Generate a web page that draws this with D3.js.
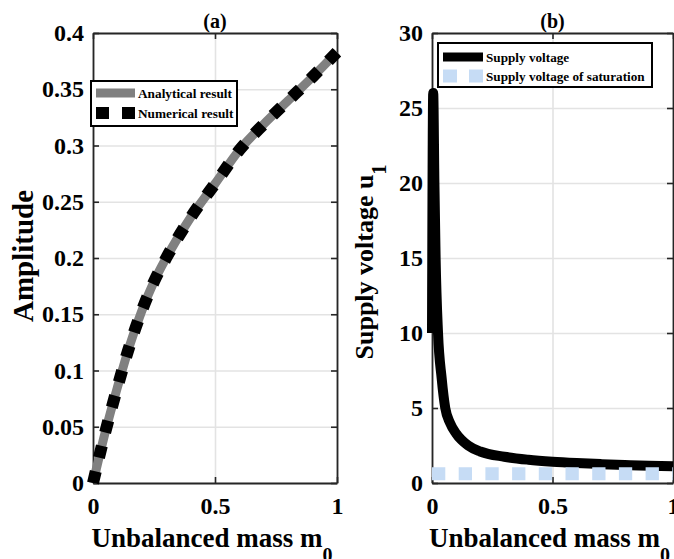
<!DOCTYPE html>
<html>
<head>
<meta charset="utf-8">
<script src="https://cdn.jsdelivr.net/npm/d3@7"></script>
<style>
  body { margin: 0; background: #fff; }
  svg text { font-family: "Liberation Serif", "Times New Roman", serif; font-weight: bold; fill: #000; }
</style>
</head>
<body>
<div id="chart"></div>
<script>
// ---- data ----
// panel (a): amplitude vs unbalanced mass
const massA = [0, 0.05, 0.1, 0.15, 0.2, 0.25, 0.3, 0.4, 0.5, 0.6, 0.7, 0.8, 0.9, 1];
const amplitudeAnalytical = [0, 0.045, 0.085, 0.122, 0.153, 0.179, 0.2, 0.236, 0.266, 0.296, 0.319, 0.34, 0.361, 0.383];
const amplitudeNumerical = [0, 0.045, 0.085, 0.122, 0.153, 0.179, 0.2, 0.236, 0.266, 0.296, 0.319, 0.34, 0.361, 0.383];

// panel (b): supply voltage vs unbalanced mass
const massB = [0, 0.005, 0.01, 0.015, 0.025, 0.04, 0.055, 0.075, 0.1, 0.15, 0.2, 0.3, 0.4, 0.5, 0.6, 0.7, 0.8, 0.9, 1];
const supplyVoltage = [10, 26, 20, 15, 10, 7, 5, 4, 3.3, 2.5, 2.1, 1.75, 1.55, 1.42, 1.33, 1.26, 1.2, 1.15, 1.12];
const massSat = [0, 1];
const saturationVoltage = [0.62, 0.62];

// ticks
const xTicks = [0, 0.5, 1];
const xTickLabels = ["0", "0.5", "1"];
const yTicksA = [0, 0.05, 0.1, 0.15, 0.2, 0.25, 0.3, 0.35, 0.4];
const yTickLabelsA = ["0", "0.05", "0.1", "0.15", "0.2", "0.25", "0.3", "0.35", "0.4"];
const yTicksB = [0, 5, 10, 15, 20, 25, 30];
const yTickLabelsB = ["0", "5", "10", "15", "20", "25", "30"];

const width = 674, height = 559;

const svg = d3.select("#chart")
  .append("svg")
  .attr("width", width)
  .attr("height", height);

function drawPanel(cfg) {
  const g = svg.append("g");
  const x = d3.scaleLinear().domain([0, 1]).range([cfg.left, cfg.right]);
  const y = d3.scaleLinear().domain(cfg.yDomain).range([cfg.bottom, cfg.top]);
  const h = cfg.bottom - cfg.top, w = cfg.right - cfg.left;

  // grid lines
  g.append("g")
    .attr("transform", "translate(0," + cfg.bottom + ")")
    .call(d3.axisBottom(x).tickValues(xTicks).tickSize(-h).tickFormat(""))
    .call(s => s.select(".domain").remove())
    .selectAll("line").attr("stroke", "#e3e3e3").attr("stroke-width", 1.6);
  g.append("g")
    .attr("transform", "translate(" + cfg.left + ",0)")
    .call(d3.axisLeft(y).tickValues(cfg.yTicks).tickSize(-w).tickFormat(""))
    .call(s => s.select(".domain").remove())
    .selectAll("line").attr("stroke", "#e3e3e3").attr("stroke-width", 1.6);

  // axes with inward ticks on all four sides
  const axisColor = "#262626";
  const bottomAxis = g.append("g")
    .attr("transform", "translate(0," + cfg.bottom + ")")
    .call(d3.axisBottom(x).tickValues(xTicks).tickSizeInner(-6).tickSizeOuter(0).tickPadding(14)
      .tickFormat((d, i) => xTickLabels[i]));
  const leftAxis = g.append("g")
    .attr("transform", "translate(" + cfg.left + ",0)")
    .call(d3.axisLeft(y).tickValues(cfg.yTicks).tickSizeInner(-6).tickSizeOuter(0).tickPadding(9)
      .tickFormat((d, i) => cfg.yTickLabels[i]));
  const topAxis = g.append("g")
    .attr("transform", "translate(0," + cfg.top + ")")
    .call(d3.axisTop(x).tickValues(xTicks).tickSizeInner(-6).tickSizeOuter(0).tickFormat(""));
  const rightAxis = g.append("g")
    .attr("transform", "translate(" + cfg.right + ",0)")
    .call(d3.axisRight(y).tickValues(cfg.yTicks).tickSizeInner(-6).tickSizeOuter(0).tickFormat(""));

  [bottomAxis, leftAxis, topAxis, rightAxis].forEach(a => {
    a.select(".domain").attr("stroke", axisColor).attr("stroke-width", 1.8);
    a.selectAll(".tick line").attr("stroke", axisColor).attr("stroke-width", 1.6);
    a.selectAll("text").style("font-size", "24px").attr("fill", "#000");
  });

  // panel title
  g.append("text")
    .attr("x", (cfg.left + cfg.right) / 2)
    .attr("y", 28)
    .attr("text-anchor", "middle")
    .style("font-size", "20px")
    .text(cfg.title);

  // x label with subscript
  const xl = g.append("text")
    .attr("x", (cfg.left + cfg.right) / 2 - 3)
    .attr("y", 547)
    .attr("text-anchor", "middle")
    .style("font-size", "27px");
  xl.append("tspan").text("Unbalanced mass m");
  xl.append("tspan").attr("dy", 15).style("font-size", "20px").text("0");

  // y label (rotated)
  const yl = g.append("text")
    .attr("transform", "translate(" + cfg.yLabelX + "," + cfg.yLabelY + ") rotate(-90)")
    .attr("text-anchor", "middle")
    .style("font-size", cfg.yLabelSize + "px");
  yl.append("tspan").text(cfg.yLabel);
  if (cfg.yLabelSub) {
    yl.append("tspan").attr("dy", 13).style("font-size", "20px").text(cfg.yLabelSub);
  }

  return { g, x, y };
}

// ---------- panel (a) ----------
const pa = drawPanel({
  left: 93, right: 337, top: 33, bottom: 483,
  yDomain: [0, 0.4], yTicks: yTicksA, yTickLabels: yTickLabelsA,
  title: "(a)", yLabel: "Amplitude", yLabelX: 33, yLabelY: 256, yLabelSize: 29
});

const lineA = d3.line()
  .x((d, i) => pa.x(massA[i]))
  .y(d => pa.y(d))
  .curve(d3.curveMonotoneX);

pa.g.append("path")
  .datum(amplitudeAnalytical)
  .attr("fill", "none")
  .attr("stroke", "#808080")
  .attr("stroke-width", 9)
  .attr("d", lineA);

pa.g.append("path")
  .datum(amplitudeNumerical)
  .attr("fill", "none")
  .attr("stroke", "#000")
  .attr("stroke-width", 12)
  .attr("stroke-dasharray", "12,14")
  .attr("d", lineA);

// legend (a)
const legA = pa.g.append("g");
legA.append("rect")
  .attr("x", 91).attr("y", 81).attr("width", 146).attr("height", 45)
  .attr("fill", "#fff").attr("stroke", "#000").attr("stroke-width", 2);
legA.append("line")
  .attr("x1", 96).attr("x2", 135).attr("y1", 93).attr("y2", 93)
  .attr("stroke", "#808080").attr("stroke-width", 9);
legA.append("line")
  .attr("x1", 96).attr("x2", 135).attr("y1", 113).attr("y2", 113)
  .attr("stroke", "#000").attr("stroke-width", 12).attr("stroke-dasharray", "13,13");
legA.append("text").attr("x", 138).attr("y", 93).attr("dy", "0.35em")
  .style("font-size", "13.3px").text("Analytical result");
legA.append("text").attr("x", 138).attr("y", 113).attr("dy", "0.35em")
  .style("font-size", "13.3px").text("Numerical result");

// ---------- panel (b) ----------
const pb = drawPanel({
  left: 432, right: 673, top: 33, bottom: 483,
  yDomain: [0, 30], yTicks: yTicksB, yTickLabels: yTickLabelsB,
  title: "(b)", yLabel: "Supply voltage u", yLabelSub: "1",
  yLabelX: 373, yLabelY: 262, yLabelSize: 26
});

const lineB = d3.line()
  .x((d, i) => pb.x(massB[i]))
  .y(d => pb.y(d))
  .curve(d3.curveMonotoneX);

pb.g.append("path")
  .datum(supplyVoltage)
  .attr("fill", "none")
  .attr("stroke", "#000")
  .attr("stroke-width", 10)
  .attr("stroke-linejoin", "round")
  .attr("d", lineB);

const lineSat = d3.line()
  .x((d, i) => pb.x(massSat[i]))
  .y(d => pb.y(d));

pb.g.append("path")
  .datum(saturationVoltage)
  .attr("fill", "none")
  .attr("stroke", "#c6dcf5")
  .attr("stroke-width", 13)
  .attr("stroke-dasharray", "13.3,13.4")
  .attr("d", lineSat);

// legend (b)
const legB = pb.g.append("g");
legB.append("rect")
  .attr("x", 438).attr("y", 43).attr("width", 214).attr("height", 44)
  .attr("fill", "#fff").attr("stroke", "#000").attr("stroke-width", 2);
legB.append("line")
  .attr("x1", 443).attr("x2", 483).attr("y1", 57).attr("y2", 57)
  .attr("stroke", "#000").attr("stroke-width", 9);
legB.append("line")
  .attr("x1", 443).attr("x2", 483).attr("y1", 76).attr("y2", 76)
  .attr("stroke", "#c6dcf5").attr("stroke-width", 13).attr("stroke-dasharray", "14,12");
legB.append("text").attr("x", 486).attr("y", 57).attr("dy", "0.35em")
  .style("font-size", "13.2px").text("Supply voltage");
legB.append("text").attr("x", 486).attr("y", 76).attr("dy", "0.35em")
  .style("font-size", "13.2px").text("Supply voltage of saturation");
</script>
</body>
</html>
